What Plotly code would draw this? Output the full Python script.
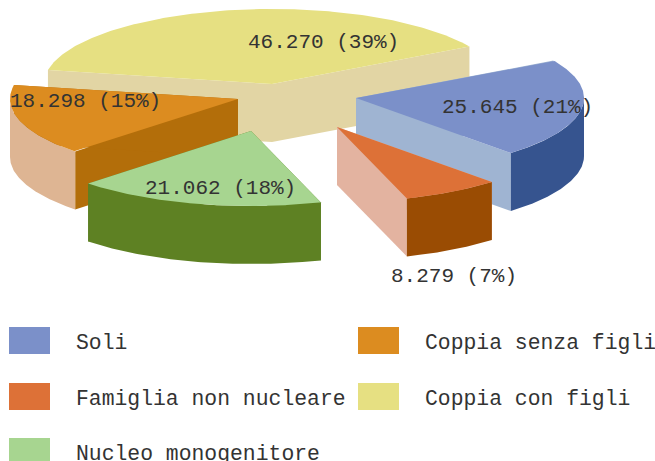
import numpy as np
import plotly.graph_objects as go

categories = ["Soli", "Famiglia non nucleare", "Nucleo monogenitore", "Coppia senza figli", "Coppia con figli"]
values = [25645, 8279, 21062, 18298, 46270]

# styles
top_colors = ["#7b90c9", "#dd7137", "#a7d590", "#dc8c20", "#e6e082"]
wall_colors = ["#36548f", "#9a4c03", "#5e8123", "#deb593", "#e2d5a4"]
edge_colors = ["#9fb4d2", "#e3b3a0", "#5e8123", "#b36e0a", "#e2d5a4"]
pull_x = [60, 41, -45, -58, -24]
pull_y = [-10, 19, 23, -9, -24]
draw_order = [4, 0, 1, 3, 2]
label_pos = [(440, 107), (389, 276), (143, 188), (8, 101), (246, 42)]
legend_pos = [(9, 327), (9, 383), (9, 438), (358, 327), (358, 383)]
CX, CY, RX, RY, DEPTH, START = 296, 108, 228, 75, 58, -30
FONT = "Liberation Mono, monospace"
TEXT = "#333333"
FS_LABEL = 21
FS_LEGEND = 21.4

total = sum(values)
angles = START + np.cumsum([0] + values) / total * 360
fig = go.Figure()


def poly(xs, ys, color):
    fig.add_trace(go.Scatter(x=list(xs), y=list(ys), mode="lines", fill="toself", fillcolor=color,
                             line=dict(width=0, color=color), hoverinfo="skip", showlegend=False))


for i in draw_order:
    ax, ay = CX + pull_x[i], CY + pull_y[i]
    t0, t1 = angles[i], angles[i + 1]
    for e in (t0, t1):
        ex, ey = ax + RX * np.cos(np.radians(e)), ay + RY * np.sin(np.radians(e))
        poly([ax, ex, ex, ax], [ay, ey, ey + DEPTH, ay + DEPTH], edge_colors[i])
    lo, hi = max(t0, 0), min(t1, 180)
    if hi > lo:
        t = np.radians(np.linspace(lo, hi, 80))
        xa, ya = ax + RX * np.cos(t), ay + RY * np.sin(t)
        poly(np.r_[xa, xa[::-1]], np.r_[ya, ya[::-1] + DEPTH], wall_colors[i])
    t = np.radians(np.linspace(t0, t1, 160))
    poly(np.r_[ax, ax + RX * np.cos(t)], np.r_[ay, ay + RY * np.sin(t)], top_colors[i])

annotations = []
for i, v in enumerate(values):
    label = f"{v:,}".replace(",", ".") + f" ({round(v / total * 100)}%)"
    annotations.append(dict(x=label_pos[i][0], y=label_pos[i][1], text=label, xanchor="left", yanchor="middle",
                            showarrow=False, xref="x", yref="y", font=dict(family=FONT, size=FS_LABEL, color=TEXT)))

shapes = []
for i, cat in enumerate(categories):
    lx, ly = legend_pos[i]
    shapes.append(dict(type="rect", x0=lx, x1=lx + 41, y0=ly, y1=ly + 27, xref="x", yref="y",
                       fillcolor=top_colors[i], line=dict(width=0), layer="above"))
    annotations.append(dict(x=lx + 65, y=ly + 16, text=cat, xanchor="left", yanchor="middle", showarrow=False,
                            xref="x", yref="y", font=dict(family=FONT, size=FS_LEGEND, color=TEXT)))

fig.update_layout(
    width=655, height=461, margin=dict(l=0, r=0, t=0, b=0), paper_bgcolor="white", plot_bgcolor="white",
    xaxis=dict(range=[0, 655], visible=False, fixedrange=True),
    yaxis=dict(range=[461, 0], visible=False, fixedrange=True),
    annotations=annotations, shapes=shapes, showlegend=False,
)
fig.write_html("out.html", config={"displayModeBar": False},
               post_script="document.body.style.margin='0';document.body.style.overflow='hidden';")
